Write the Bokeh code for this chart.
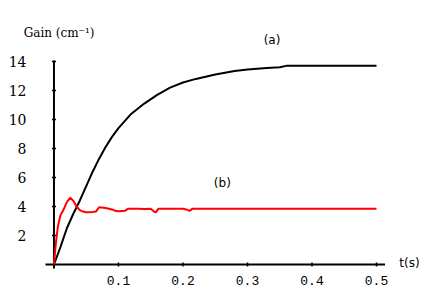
import numpy as np
from bokeh.plotting import figure
from bokeh.models import Range1d
from bokeh.core.properties import value
from bokeh.embed import file_html
from bokeh.resources import INLINE

# Curve (a): gain vs time (black)
t_a = [0, 0.01, 0.02, 0.03, 0.04, 0.05, 0.06, 0.07, 0.08, 0.09, 0.10, 0.12, 0.14,
       0.16, 0.18, 0.20, 0.22, 0.25, 0.28, 0.30, 0.33, 0.35, 0.36, 0.40, 0.45, 0.50]
g_a = [0, 1.2, 2.5, 3.5, 4.4, 5.4, 6.4, 7.3, 8.1, 8.8, 9.4, 10.4, 11.1,
       11.7, 12.2, 12.55, 12.8, 13.1, 13.35, 13.45, 13.55, 13.6, 13.7, 13.7, 13.7, 13.7]

# Curve (b): gain vs time (red)
t_b = [0, 0.003, 0.006, 0.01, 0.015, 0.02, 0.025, 0.03, 0.035, 0.04, 0.045, 0.05,
       0.06, 0.065, 0.07, 0.08, 0.09, 0.095, 0.10, 0.11, 0.115, 0.12, 0.13, 0.14,
       0.15, 0.155, 0.158, 0.162, 0.17, 0.20, 0.205, 0.21, 0.215, 0.25, 0.30, 0.40, 0.50]
g_b = [0, 1.5, 2.6, 3.4, 3.8, 4.3, 4.6, 4.4, 4.0, 3.75, 3.65, 3.6,
       3.62, 3.65, 3.95, 3.9, 3.8, 3.7, 3.68, 3.7, 3.85, 3.85, 3.85, 3.82,
       3.85, 3.65, 3.6, 3.85, 3.85, 3.85, 3.8, 3.7, 3.85, 3.85, 3.85, 3.85, 3.85]

x_ticks = [0.1, 0.2, 0.3, 0.4, 0.5]
x_labels = ["0.1", "0.2", "0.3", "0.4", "0.5"]
y_ticks = [2, 4, 6, 8, 10, 12, 14]
y_labels = ["2", "4", "6", "8", "10", "12", "14"]

y_title = "Gain (cm⁻¹)"
x_title = "t(s)"
curve_labels = ["(a)", "(b)"]

# plot frame covers whole canvas; axes drawn through the origin
p = figure(width=420, height=290, min_border=0,
           x_range=Range1d(-0.0829, 0.5682), y_range=Range1d(-1.793, 18.207),
           output_backend="svg", toolbar_location=None)
p.outline_line_color = None
p.grid.visible = False
p.axis.visible = False
p.background_fill_color = "white"
p.border_fill_color = "white"

x_pad = 0.0132
y_pad = 0.28
x_end = max(x_ticks) + x_pad
y_end = max(y_ticks) + 0.07

# axis lines
p.segment(x0=[-x_pad], y0=[0], x1=[x_end], y1=[0], line_color="black", line_width=2)
p.segment(x0=[0], y0=[-y_pad], x1=[0], y1=[y_end], line_color="black", line_width=2)

# small tick marks on the axes
p.scatter(x_ticks, [0] * len(x_ticks), marker="dash", angle=np.pi / 2, size=4,
          line_color="black", line_width=1.5)
p.scatter([0] * len(y_ticks), y_ticks, marker="dash", size=4,
          line_color="black", line_width=1.5)

# tick labels
p.text(x=x_ticks, y=[-1.1] * len(x_ticks), text=x_labels,
       text_font=value("Liberation Mono"), text_font_size="13px",
       text_align="center", text_baseline="middle", text_color="black")
p.text(x=[-0.0426] * len(y_ticks), y=y_ticks, text=y_labels,
       text_font=value("DejaVu Serif"), text_font_size="14px",
       text_align="right", text_baseline="middle", text_color="black")

# curves
p.line(t_a, g_a, line_color="black", line_width=2)
p.line(t_b, g_b, line_color="red", line_width=2)

# titles and curve labels
p.text(x=[-0.047], y=[16.0], text=[y_title], text_font=value("DejaVu Serif"),
       text_font_size="12px", text_baseline="middle", text_align="left",
       text_color="black")
p.text(x=[0.338, 0.261], y=[15.45, 5.6], text=curve_labels,
       text_font=value("DejaVu Sans"), text_font_size="12px",
       text_baseline="middle", text_align="center", text_color="black")
p.text(x=[0.551], y=[0.07], text=[x_title], text_font=value("DejaVu Sans"),
       text_font_size="12px", text_baseline="middle", text_align="center",
       text_color="black")

open("out.html", "w").write(file_html(p, INLINE))
